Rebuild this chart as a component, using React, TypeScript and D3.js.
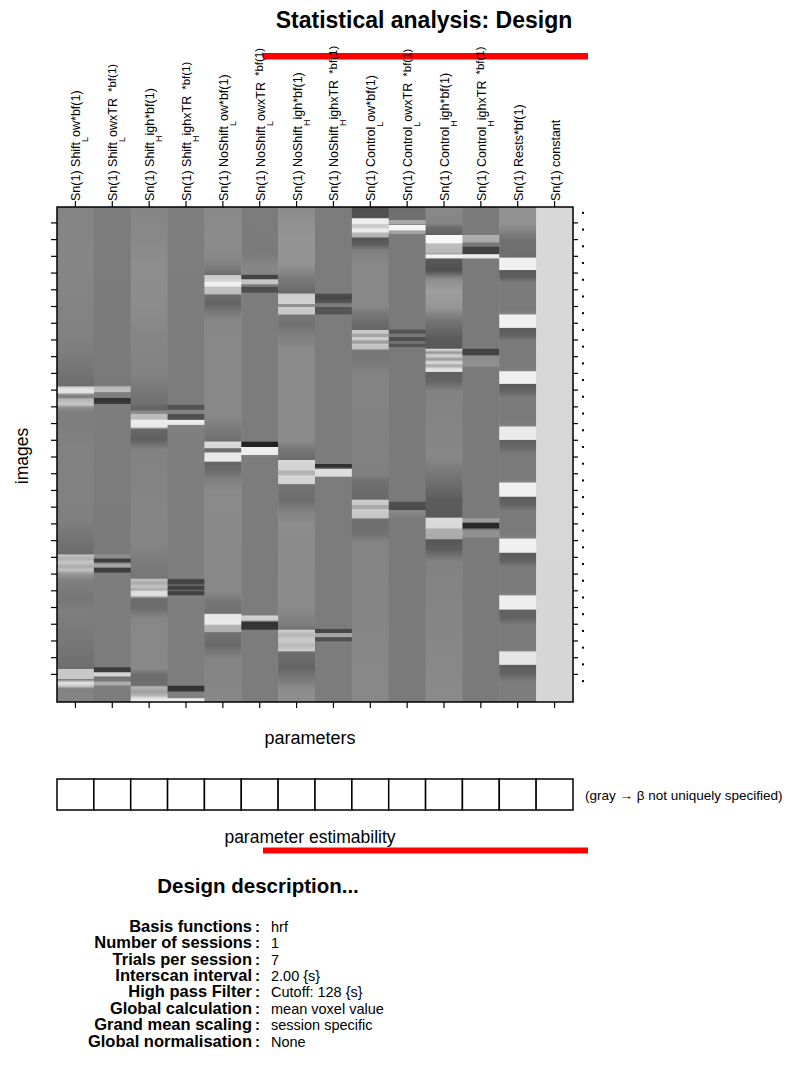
import { useRef, useEffect } from "react";
import * as d3 from "d3";

// design matrix: 296 scans x 14 regressors
const nScans = 296;
const yTickScans = d3.range(10, 281, 10);
const sessionDots = d3.range(4, 290, 10);

const paramNames: [string, string, string, string][] = [
  ["Sn(1) Shift", "L", "ow*bf(1)", ""],
  ["Sn(1) Shift", "L", "owxTR", "*bf(1)"],
  ["Sn(1) Shift", "H", "igh*bf(1)", ""],
  ["Sn(1) Shift", "H", "ighxTR", "*bf(1)"],
  ["Sn(1) NoShift", "L", "ow*bf(1)", ""],
  ["Sn(1) NoShift", "L", "owxTR", "*bf(1)"],
  ["Sn(1) NoShift", "H", "igh*bf(1)", ""],
  ["Sn(1) NoShift", "H", "ighxTR", "*bf(1)"],
  ["Sn(1) Control", "L", "ow*bf(1)", ""],
  ["Sn(1) Control", "L", "owxTR", "*bf(1)"],
  ["Sn(1) Control", "H", "igh*bf(1)", ""],
  ["Sn(1) Control", "H", "ighxTR", "*bf(1)"],
  ["Sn(1) Rests*bf(1)", "", "", ""],
  ["Sn(1) constant", "", "", ""],
];

// [scan, gray level] read down each column of the matrix
const shiftLow = [[0,132],[32,134],[74,130],[88,125],[103,112],[107,110],[107.5,200],[109,230],[111,225],[112,150],[113.5,120],[115,180],[118,200],[120,140],[123,125],[139,128],[146,130],[187,128],[199,115],[207.5,108],[208,195],[210.5,175],[212.5,200],[215,170],[217,195],[219.5,150],[223,128],[235,118],[241,126],[259,120],[271,112],[276,110],[276.5,200],[282,200],[282.5,125],[284.5,230],[286.5,200],[288,130],[296,133]];
const shiftLowTR = [[0,124],[100,122],[107,120],[107.5,185],[110.5,190],[111,130],[114,125],[114.5,50],[117.5,60],[118,125],[150,124],[207.5,122],[208,145],[210,140],[210.5,60],[212.3,65],[212.8,125],[213.5,165],[215.3,165],[216,60],[218.3,65],[219,125],[275,124],[275.5,60],[278,60],[278.5,215],[280.5,210],[281,115],[283.5,120],[284,175],[285.8,170],[286.5,124],[296,124]];
const shiftHigh = [[0,134],[20,136],[35,142],[60,140],[75,134],[100,130],[110,118],[118,112],[118.4,105],[121.4,100],[122,138],[123.8,140],[124,190],[126.8,185],[127.4,235],[131.6,235],[132,180],[133,105],[139,95],[145,130],[200,134],[215,122],[222,118],[222.5,195],[225,170],[227,195],[229,170],[230,225],[232.6,220],[233.2,150],[234.4,108],[240,110],[246.4,135],[276,136],[280,108],[286,110],[287,180],[290,160],[292,180],[294,230],[296,235]];
const shiftHighTR = [[0,126],[118,124],[118.5,80],[121,85],[121.5,130],[123.5,130],[124,80],[127,80],[127.5,240],[130,235],[130.5,130],[135,126],[222,126],[223,64],[225.5,70],[226,115],[227,64],[229,70],[229.5,120],[230,64],[232,70],[232.5,126],[286,126],[286.5,50],[289.5,55],[290,128],[293.5,128],[294,235],[296,235]];
const noShiftLow = [[0,136],[20,140],[30,136],[36,125],[40.5,108],[40.8,200],[44.5,215],[45,240],[47.2,240],[48,195],[52,190],[52.5,110],[58,100],[64,125],[68,135],[125,136],[132,124],[140,110],[140.5,220],[144,215],[144.5,110],[146.5,110],[147,230],[152,235],[152.5,100],[157,105],[162,125],[170,138],[230,135],[236,118],[243,112],[243.5,230],[249.5,235],[250,180],[254,175],[254.5,115],[262,105],[270,132],[296,136]];
const noShiftLowTR = [[0,124],[28,122],[35,134],[40.3,134],[40.7,65],[43,70],[43.5,200],[46,195],[46.5,120],[47.5,120],[48,75],[51,80],[51.5,124],[140,124],[140.7,35],[143.3,35],[143.8,240],[148,235],[148.5,130],[150,124],[244,124],[244.5,210],[247,205],[247.8,120],[248.3,50],[252.5,55],[253,124],[296,124]];
const noShiftHigh = [[0,138],[10,144],[20,148],[35,146],[40,130],[48,110],[51.5,105],[52,205],[58,210],[58.3,145],[59.6,145],[60,205],[64,200],[64.6,120],[70,112],[76,125],[85,138],[140,138],[146,115],[151,108],[151.5,215],[157,210],[158,180],[160,180],[161,215],[165.5,210],[166,115],[175,108],[182,130],[190,140],[240,138],[250,124],[252.5,115],[253,208],[256,180],[259,205],[262,185],[265.5,205],[266,110],[275,100],[283,122],[288,140],[296,142]];
const noShiftHighTR = [[0,124],[51.5,124],[52,80],[54,70],[57,85],[58,124],[59.5,126],[60,85],[64,85],[64.5,124],[150,124],[153.5,124],[154,45],[155.5,50],[156.5,124],[157,225],[161,220],[161.5,124],[252,124],[252.5,70],[254.5,70],[255,165],[257,165],[257.5,80],[259.5,80],[260,124],[296,124]];
const controlLow = [[0,80],[6.5,82],[7,240],[10,235],[10.5,205],[12.5,205],[13,235],[15,235],[15.5,185],[18,175],[18.5,85],[22,90],[26,128],[35,136],[60,136],[62,125],[70,106],[73.3,104],[73.6,205],[75.5,200],[76,165],[77.5,165],[78,205],[79.5,205],[80,160],[81.5,160],[82,200],[85,190],[85.5,120],[90,118],[100,132],[160,128],[165,110],[174.8,106],[175.2,205],[178,200],[178.5,170],[180.5,170],[181,205],[186,195],[186.5,110],[195,112],[200,132],[296,136]];
const controlLowTR = [[0,110],[7.5,112],[7.8,168],[10.2,168],[10.6,120],[10.8,245],[13.8,245],[14.2,165],[16,160],[16.5,122],[73,122],[73.6,85],[75.5,85],[76,120],[77.5,120],[78,80],[80,80],[80.5,115],[81.5,115],[82,85],[83.5,85],[84,122],[176,122],[176.5,80],[181,75],[181.5,135],[185,130],[186,122],[296,122]];
const controlHigh = [[0,138],[10,132],[12,110],[16.5,95],[17,248],[21.5,245],[22,190],[27,185],[28.2,160],[28.6,245],[30.5,240],[31,90],[38,80],[43,140],[50,158],[60,150],[67,120],[78,92],[84.5,88],[85,225],[87,150],[89,215],[91,150],[93,220],[95,165],[97,230],[98.5,220],[98.8,95],[104,100],[110,130],[150,135],[165,110],[175,92],[185.5,90],[186,220],[192,215],[192.5,175],[198.5,170],[199,85],[205,95],[212,130],[296,138]];
const controlHighTR = [[0,122],[16.5,122],[16.8,175],[21,170],[21.5,120],[23.5,120],[24,65],[28,65],[28.5,235],[30.5,230],[31,122],[84.5,122],[85,65],[88.5,70],[89,140],[95,145],[96,122],[186,122],[186.5,160],[188.5,155],[189,40],[192,40],[192.5,122],[194,145],[197,145],[198,122],[296,122]];
const rests = [[0,146],[10,146],[20,112],[30,110],[30.5,240],[37.5,240],[38,90],[42,95],[45,122],[62,122],[64,132],[64.5,240],[72,240],[72.5,90],[77,100],[80,122],[96,122],[98,130],[98.5,240],[105.5,240],[106,90],[110,100],[114,122],[129,122],[131,130],[131.5,235],[139,235],[139.5,95],[144,105],[148,122],[163,122],[164.5,130],[165,240],[173,240],[173.5,90],[178,100],[182,122],[196,122],[198,130],[198.5,240],[206.5,240],[207,90],[212,100],[215,122],[230,122],[232,130],[232.5,238],[240.5,238],[241,95],[246,100],[250,122],[264,122],[265.5,130],[266,230],[273.5,230],[274,92],[279,100],[284,125],[296,125]];
const constant = [[0,216],[296,214]];

const columnStops = [shiftLow, shiftLowTR, shiftHigh, shiftHighTR, noShiftLow, noShiftLowTR, noShiftHigh, noShiftHighTR, controlLow, controlLowTR, controlHigh, controlHighTR, rests, constant];

// all parameters uniquely specified (white boxes)
const estimable = [1, 1, 1, 1, 1, 1, 1, 1, 1, 1, 1, 1, 1, 1];

const descKeys = ["Basis functions", "Number of sessions", "Trials per session", "Interscan interval", "High pass Filter", "Global calculation", "Grand mean scaling", "Global normalisation"];
const descValues = ["hrf", "1", "7", "2.00 {s}", "Cutoff: 128 {s}", "mean voxel value", "session specific", "None"];

const FONT = "'Liberation Sans', Arial, sans-serif";

export default function App() {
  const svgRef = useRef<SVGSVGElement>(null);

  useEffect(() => {
    if (!svgRef.current) return;
    const width = 789;
    const height = 1073;
    const m = { left: 57, right: 573, top: 207, bottom: 702 };

    const svg = d3.select(svgRef.current);
    svg.selectAll("*").remove();
    svg.attr("width", width).attr("height", height).attr("viewBox", `0 0 ${width} ${height}`);
    svg.append("rect").attr("width", width).attr("height", height).attr("fill", "#fff");

    const x = d3.scaleBand<number>().domain(d3.range(paramNames.length)).range([m.left, m.right]);
    const y = d3.scaleLinear().domain([0, nScans]).range([m.top, m.bottom]);
    const yc = (s: number) => y(s - 0.5);

    // red bars sit behind the labels
    svg.append("rect").attr("x", 263).attr("y", 53).attr("width", 325).attr("height", 6.5).attr("fill", "#ff0000");
    svg.append("rect").attr("x", 263).attr("y", 847.5).attr("width", 325).attr("height", 6).attr("fill", "#ff0000");

    svg
      .append("text")
      .attr("x", 424)
      .attr("y", 28)
      .attr("text-anchor", "middle")
      .attr("font-family", FONT)
      .attr("font-weight", "bold")
      .attr("font-size", 23)
      .text("Statistical analysis: Design");

    // matrix columns as gradients
    const defs = svg.append("defs");
    columnStops.forEach((stops, i) => {
      const g = defs
        .append("linearGradient")
        .attr("id", `dm-col-${i}`)
        .attr("gradientUnits", "userSpaceOnUse")
        .attr("x1", 0)
        .attr("x2", 0)
        .attr("y1", m.top)
        .attr("y2", m.bottom);
      stops.forEach(([s, v]) => {
        g.append("stop")
          .attr("offset", (y(s) - m.top) / (m.bottom - m.top))
          .attr("stop-color", d3.rgb(v, v, v).formatHex());
      });
    });

    svg
      .append("g")
      .selectAll("rect")
      .data(columnStops)
      .join("rect")
      .attr("x", (_, i) => x(i)!)
      .attr("y", m.top)
      .attr("width", x.bandwidth() + 0.5)
      .attr("height", m.bottom - m.top)
      .attr("fill", (_, i) => `url(#dm-col-${i})`);

    svg
      .append("rect")
      .attr("x", m.left)
      .attr("y", m.top)
      .attr("width", m.right - m.left)
      .attr("height", m.bottom - m.top)
      .attr("fill", "none")
      .attr("stroke", "#000")
      .attr("stroke-width", 1.5);

    const ticks = svg.append("g").attr("stroke", "#000").attr("stroke-width", 1.2);
    d3.range(paramNames.length).forEach((i) => {
      const cx = x(i)! + x.bandwidth() / 2;
      ticks.append("line").attr("x1", cx).attr("x2", cx).attr("y1", m.top - 6).attr("y2", m.top);
      ticks.append("line").attr("x1", cx).attr("x2", cx).attr("y1", m.bottom).attr("y2", m.bottom + 6);
    });
    yTickScans.forEach((s) => {
      ticks.append("line").attr("x1", m.left - 6).attr("x2", m.left).attr("y1", yc(s)).attr("y2", yc(s));
      ticks.append("line").attr("x1", m.right).attr("x2", m.right + 5).attr("y1", yc(s)).attr("y2", yc(s));
    });
    svg
      .append("g")
      .selectAll("rect")
      .data(sessionDots)
      .join("rect")
      .attr("x", m.right + 9)
      .attr("y", (d) => yc(d) - 1)
      .attr("width", 2)
      .attr("height", 2)
      .attr("fill", "#000");

    // rotated parameter names
    paramNames.forEach(([pre, sub, post, sup], i) => {
      const cx = x(i)! + x.bandwidth() / 2;
      const t = svg
        .append("text")
        .attr("transform", `translate(${cx + 5}, ${m.top - 6}) rotate(-90)`)
        .attr("font-family", FONT)
        .attr("font-size", 12.5)
        .attr("fill", "#000");
      t.append("tspan").text(pre);
      if (sub) t.append("tspan").attr("dy", 8).attr("font-size", 9).text(sub);
      if (post) t.append("tspan").attr("dy", sub ? -8 : 0).text(post);
      if (sup) t.append("tspan").attr("dx", 6).attr("dy", -1.5).attr("font-size", 11.5).text(sup);
    });

    svg
      .append("text")
      .attr("transform", "translate(28, 456) rotate(-90)")
      .attr("text-anchor", "middle")
      .attr("font-family", FONT)
      .attr("font-size", 17.5)
      .text("images");

    svg
      .append("text")
      .attr("x", 310)
      .attr("y", 744)
      .attr("text-anchor", "middle")
      .attr("font-family", FONT)
      .attr("font-size", 18)
      .text("parameters");

    // estimability row
    svg
      .append("g")
      .selectAll("rect")
      .data(estimable)
      .join("rect")
      .attr("x", (_, i) => x(i)!)
      .attr("y", 779)
      .attr("width", x.bandwidth())
      .attr("height", 31)
      .attr("fill", (d) => (d ? "#fff" : "#c0c0c0"))
      .attr("stroke", "#000")
      .attr("stroke-width", 1.5);

    svg
      .append("text")
      .attr("x", 585)
      .attr("y", 800)
      .attr("font-family", FONT)
      .attr("font-size", 13.5)
      .text("(gray \u2192 \u03b2 not uniquely specified)");

    svg
      .append("text")
      .attr("x", 310)
      .attr("y", 843)
      .attr("text-anchor", "middle")
      .attr("font-family", FONT)
      .attr("font-size", 17.5)
      .text("parameter estimability");

    // design description
    svg
      .append("text")
      .attr("x", 258)
      .attr("y", 893)
      .attr("text-anchor", "middle")
      .attr("font-family", FONT)
      .attr("font-weight", "bold")
      .attr("font-size", 20.5)
      .text("Design description...");

    const rowY = d3.scalePoint<number>().domain(d3.range(descKeys.length)).range([932, 1046.5]);
    descKeys.forEach((k, i) => {
      svg
        .append("text")
        .attr("x", 252)
        .attr("y", rowY(i)!)
        .attr("text-anchor", "end")
        .attr("font-family", FONT)
        .attr("font-weight", "bold")
        .attr("font-size", 16.5)
        .text(k);
      svg
        .append("text")
        .attr("x", 255)
        .attr("y", rowY(i)!)
        .attr("font-family", FONT)
        .attr("font-weight", "bold")
        .attr("font-size", 15)
        .text(":");
      svg
        .append("text")
        .attr("x", 271)
        .attr("y", rowY(i)!)
        .attr("font-family", FONT)
        .attr("font-size", 14.5)
        .text(descValues[i]);
    });
  }, []);

  return (
    <svg
      ref={svgRef}
      style={{ position: "absolute", left: 0, top: 0, display: "block" }}
    />
  );
}
